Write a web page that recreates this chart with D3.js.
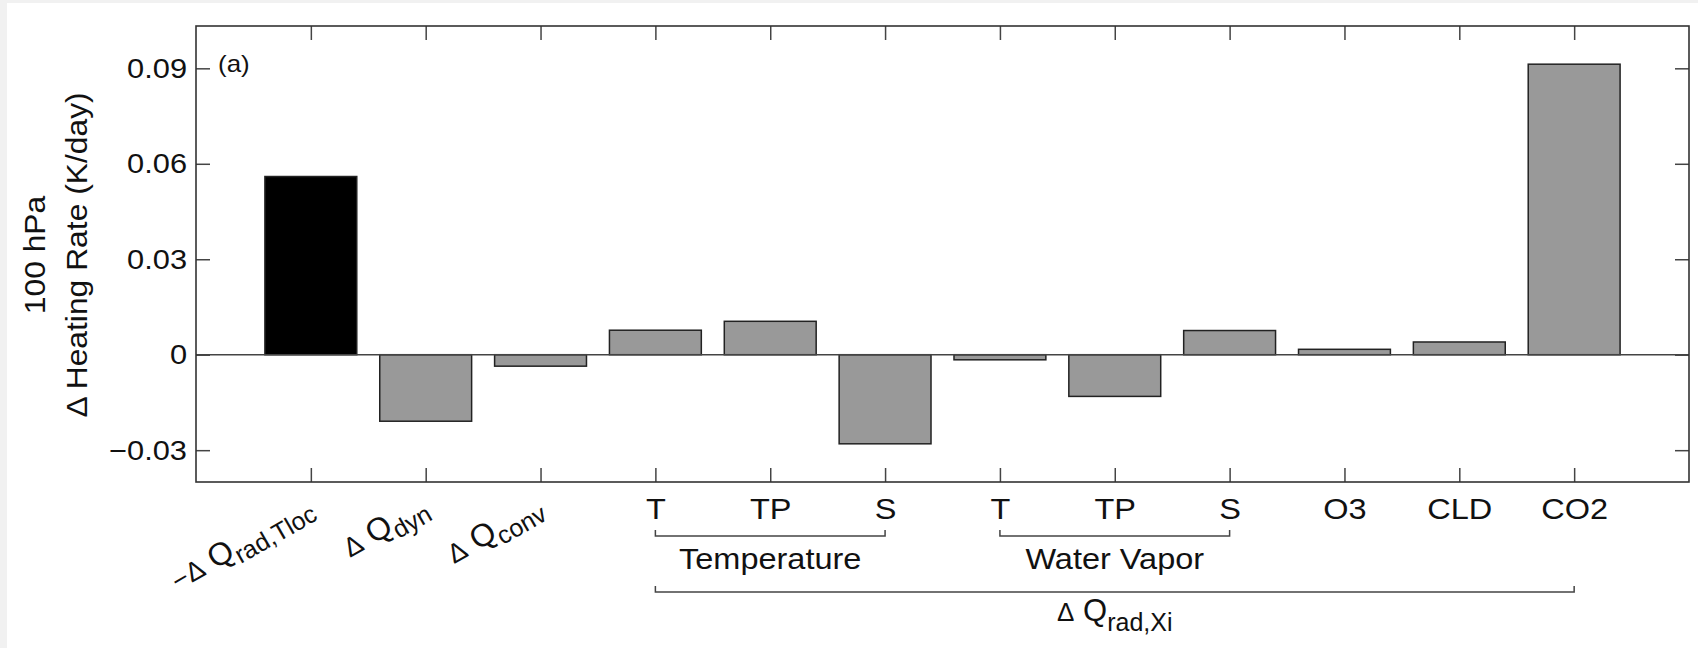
<!DOCTYPE html>
<html>
<head>
<meta charset="utf-8">
<script src="https://cdn.jsdelivr.net/npm/d3@7"></script>
<style>
  html, body { margin: 0; padding: 0; background: #f1f1f1; }
  svg { display: block; font-family: "Liberation Sans", Arial, Helvetica, sans-serif; }
</style>
</head>
<body>
<svg id="chart" width="1698" height="648"></svg>
<script>
// ---- data ----
const categories = ["-dQ_rad,Tloc", "dQ_dyn", "dQ_conv", "T", "TP", "S", "T", "TP", "S", "O3", "CLD", "CO2"];
const values = [0.056, -0.0209, -0.0036, 0.0077, 0.0105, -0.0280, -0.0016, -0.0131, 0.0076, 0.0017, 0.0040, 0.0913];
const tickLabels = ["", "", "", "T", "TP", "S", "T", "TP", "S", "O3", "CLD", "CO2"];
const rotatedMain = ["−Δ", "Δ", "Δ"];
const rotatedSub = ["rad,Tloc", "dyn", "conv"];
const yTicks = [-0.03, 0, 0.03, 0.06, 0.09];
const yTickLabels = ["−0.03", "0", "0.03", "0.06", "0.09"];
const groupNames = ["Temperature", "Water Vapor"];
const groupStart = [4, 7];
const groupEnd = [6, 9];
const outerStart = 4, outerEnd = 12;

// ---- layout ----
const svg = d3.select("#chart");
const L = 196, R = 1689, T = 26, B = 482;

svg.append("rect").attr("x", 7).attr("y", 3).attr("width", 1698).attr("height", 648).attr("fill", "#fff");

const x = d3.scaleLinear().domain([0, 13]).range([L, R]);
const y = d3.scaleLinear().domain([-0.04, 0.1033]).range([B, T]);
const barW = x(0.8) - x(0);

// horizontal stretch of text (the reference glyphs are slightly wide)
function stretch(sel, k) {
  sel.each(function () {
    const len = this.getComputedTextLength();
    if (len > 0) d3.select(this).attr("textLength", len * k).attr("lengthAdjust", "spacingAndGlyphs");
  });
}

// bars
svg.append("g").selectAll("rect").data(values).join("rect")
  .attr("x", (d, i) => x(i + 1) - barW / 2)
  .attr("width", barW)
  .attr("y", d => y(Math.max(0, d)))
  .attr("height", d => Math.abs(y(d) - y(0)))
  .attr("fill", (d, i) => i === 0 ? "#000" : "#999")
  .attr("stroke", "#222")
  .attr("stroke-width", 1.5);

// zero line
svg.append("line").attr("x1", L).attr("x2", R).attr("y1", y(0)).attr("y2", y(0))
  .attr("stroke", "#444").attr("stroke-width", 1.5);

const xt = d3.range(1, 13);
const styleAxis = g => {
  g.select(".domain").remove();
  g.selectAll(".tick line").attr("stroke", "#444").attr("stroke-width", 1.5);
};

// left axis
svg.append("g").attr("transform", `translate(${L},0)`)
  .call(d3.axisLeft(y).tickValues(yTicks).tickSize(-14).tickPadding(9)
    .tickFormat((d, i) => yTickLabels[i]))
  .call(styleAxis)
  .call(g => g.selectAll("text").attr("font-size", 28).attr("fill", "#111")
    .attr("font-family", "Liberation Sans, Arial, sans-serif"))
  .call(g => stretch(g.selectAll("text"), 1.1));

// right axis
svg.append("g").attr("transform", `translate(${R},0)`)
  .call(d3.axisRight(y).tickValues(yTicks).tickSize(-14).tickFormat(() => ""))
  .call(styleAxis);

// top axis
svg.append("g").attr("transform", `translate(0,${T})`)
  .call(d3.axisTop(x).tickValues(xt).tickSize(-14).tickFormat(() => ""))
  .call(styleAxis);

// bottom axis
svg.append("g").attr("transform", `translate(0,${B})`)
  .call(d3.axisBottom(x).tickValues(xt).tickSize(-14).tickPadding(16)
    .tickFormat((d, i) => tickLabels[i]))
  .call(styleAxis)
  .call(g => g.selectAll("text").attr("font-size", 29).attr("fill", "#111")
    .attr("font-family", "Liberation Sans, Arial, sans-serif"))
  .call(g => stretch(g.selectAll("text"), 1.12));

// frame
svg.append("rect").attr("x", L).attr("y", T).attr("width", R - L).attr("height", B - T)
  .attr("fill", "none").attr("stroke", "#333").attr("stroke-width", 1.6);

// rotated labels (no textLength here; sizes slightly enlarged instead)
rotatedMain.forEach((m, i) => {
  const t = svg.append("text")
    .attr("transform", `translate(${x(i + 1) + 4},${512}) rotate(-30)`)
    .attr("text-anchor", "end").attr("fill", "#111");
  t.append("tspan").attr("font-size", 27).text(m);
  t.append("tspan").attr("font-size", 32).text(" Q");
  t.append("tspan").attr("font-size", 25).attr("dy", 8).text(rotatedSub[i]);
});

// group brackets
const bracket = (x1, x2, yy, h) => {
  svg.append("path")
    .attr("d", `M${x1},${yy - h}V${yy}H${x2}V${yy - h}`)
    .attr("fill", "none").attr("stroke", "#444").attr("stroke-width", 1.5);
};
groupNames.forEach((name, i) => {
  bracket(x(groupStart[i]), x(groupEnd[i]), 536, 6);
  const g = svg.append("text").attr("x", (x(groupStart[i]) + x(groupEnd[i])) / 2).attr("y", 569)
    .attr("text-anchor", "middle").attr("font-size", 29).attr("fill", "#111").text(name);
  stretch(g, 1.12);
});
bracket(x(outerStart), x(outerEnd), 592, 6);
const ot = svg.append("text").attr("x", (x(outerStart) + x(outerEnd)) / 2).attr("y", 621)
  .attr("text-anchor", "middle").attr("fill", "#111");
ot.append("tspan").attr("font-size", 26).text("Δ");
ot.append("tspan").attr("font-size", 31).text(" Q");
ot.append("tspan").attr("font-size", 25).attr("dy", 10).text("rad,Xi");

// y-axis title
const t1 = svg.append("text").attr("transform", "translate(45,255) rotate(-90)")
  .attr("text-anchor", "middle").attr("font-size", 30).attr("fill", "#111").text("100 hPa");
const t2 = svg.append("text").attr("transform", "translate(87,255) rotate(-90)")
  .attr("text-anchor", "middle").attr("font-size", 30).attr("fill", "#111").text("Δ Heating Rate (K/day)");
stretch(t1, 1.06);
stretch(t2, 1.06);

// panel label
const pa = svg.append("text").attr("x", 218).attr("y", 72).attr("font-size", 24).attr("fill", "#111").text("(a)");
stretch(pa, 1.08);
</script>
</body>
</html>
